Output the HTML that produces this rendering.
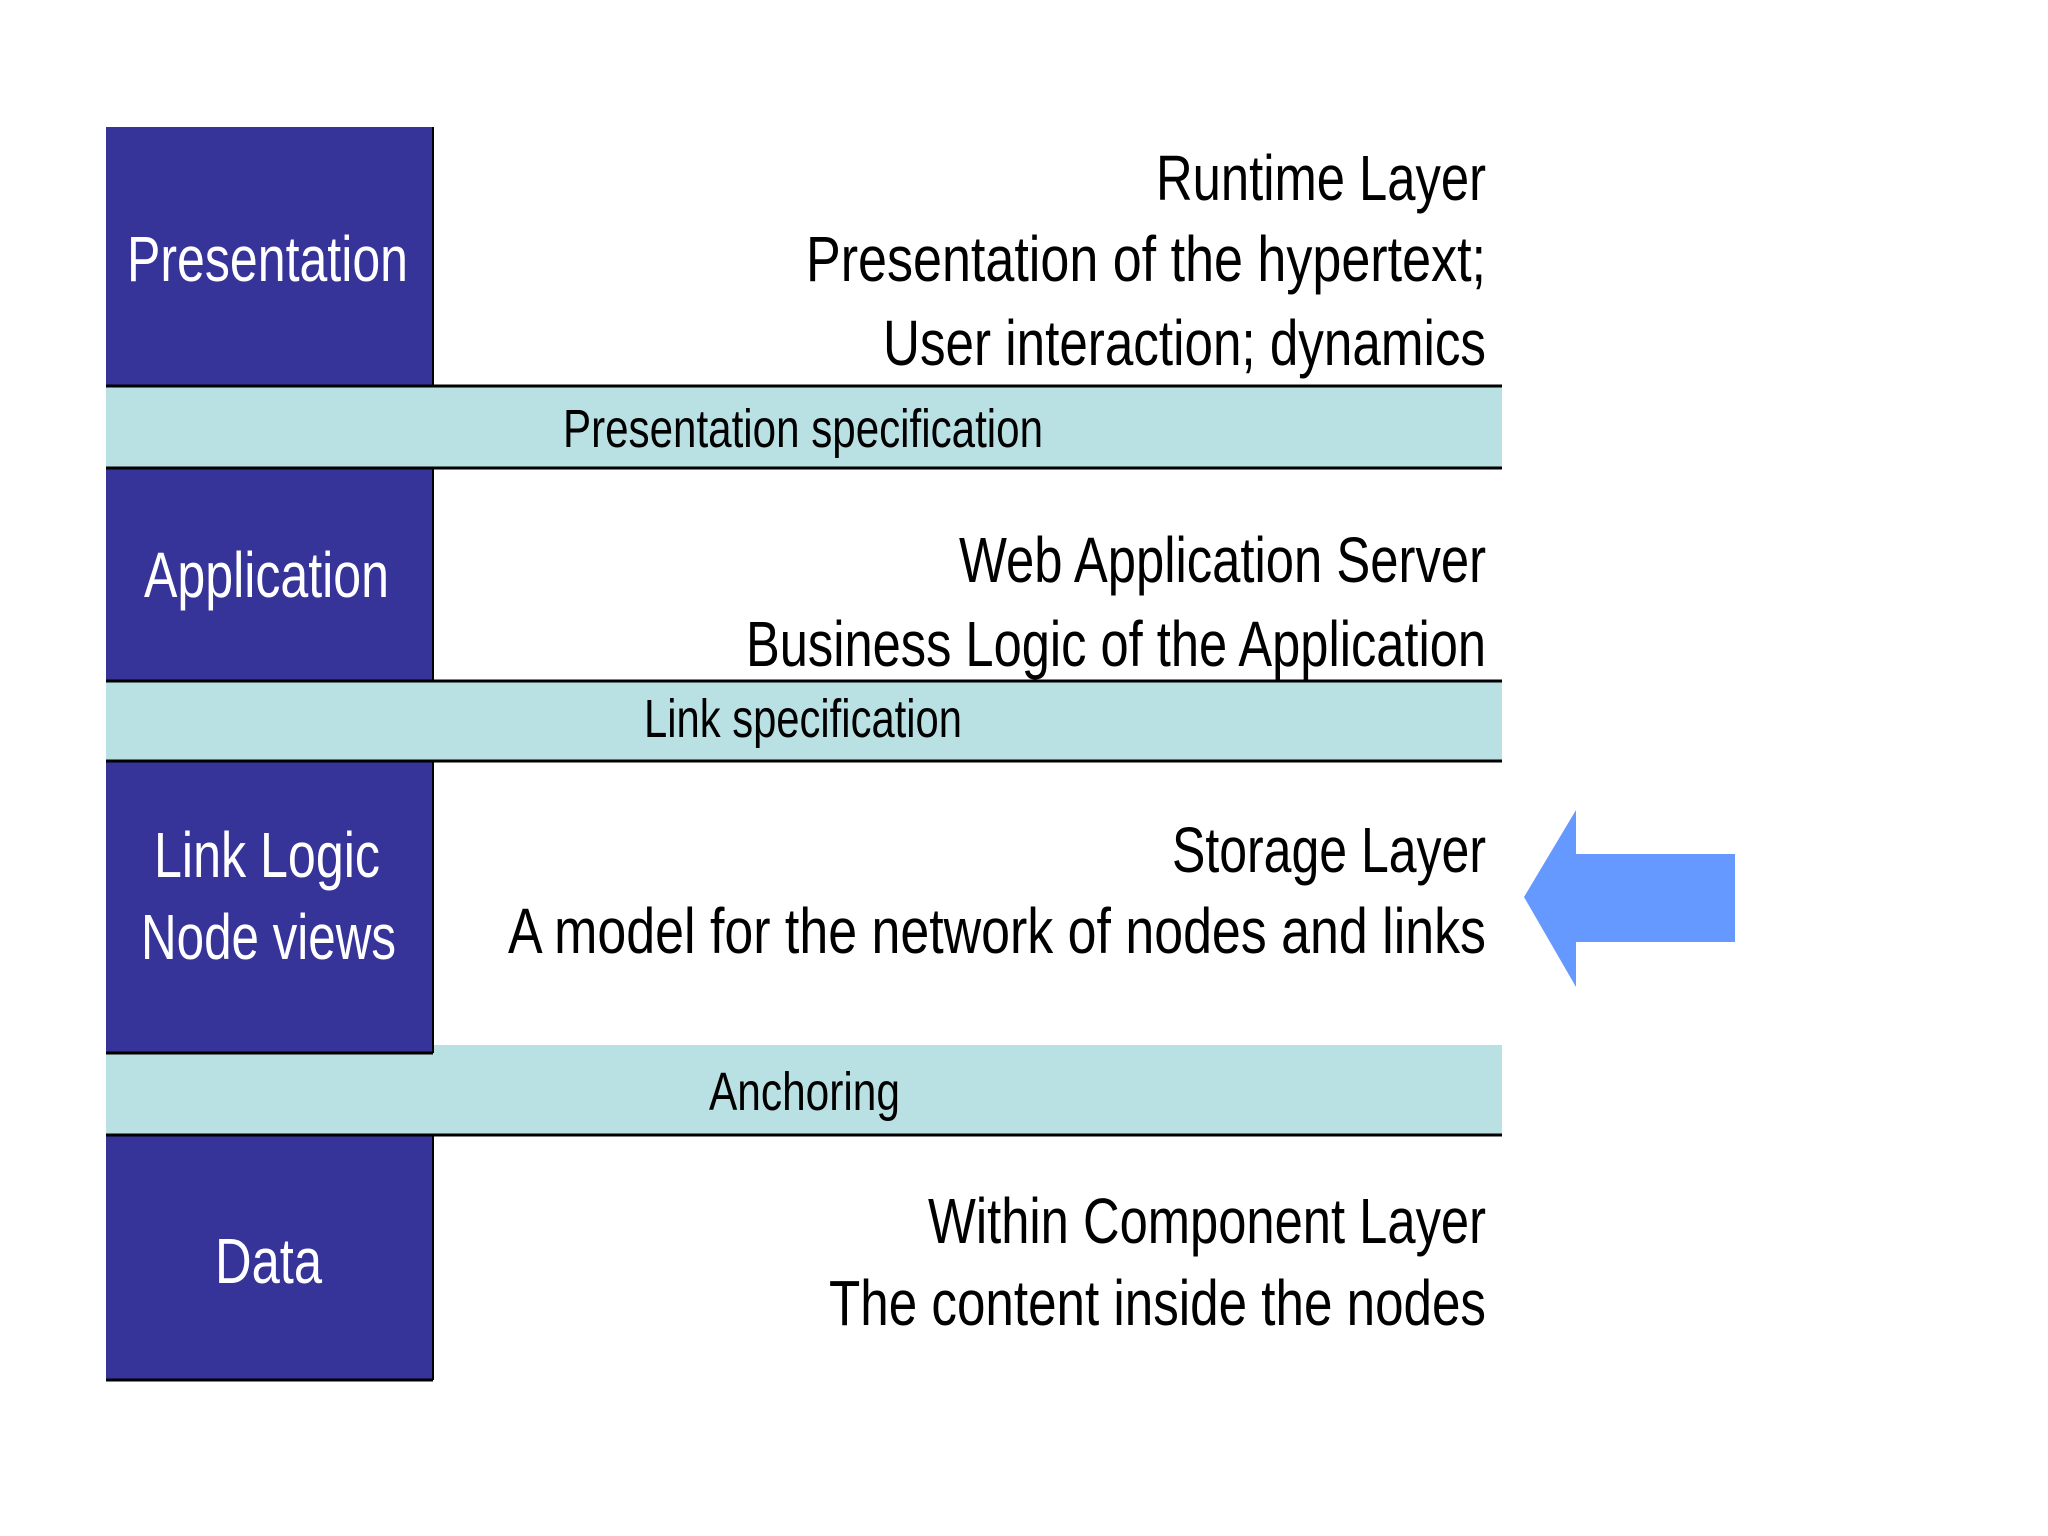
<!DOCTYPE html>
<html><head><meta charset="utf-8"><style>html,body{margin:0;padding:0;background:#fff}svg{display:block}</style></head>
<body>
<svg width="2048" height="1536" viewBox="0 0 2048 1536" xmlns="http://www.w3.org/2000/svg" font-family="Liberation Sans, sans-serif">
<rect width="2048" height="1536" fill="#fff"/>
<!-- bands -->
<rect x="106" y="385" width="1396" height="83" fill="#b9e0e3"/>
<rect x="106" y="680" width="1396" height="81" fill="#b9e0e3"/>
<rect x="106" y="1045" width="1396" height="90" fill="#b9e0e3"/>
<!-- blue boxes -->
<rect x="106" y="127" width="327" height="258" fill="#363399"/>
<rect x="106" y="468" width="327" height="212" fill="#363399"/>
<rect x="106" y="761" width="327" height="292" fill="#363399"/>
<rect x="106" y="1135" width="327" height="245" fill="#363399"/>
<!-- lines -->
<g stroke="#000" stroke-width="3">
<line x1="106" y1="386" x2="1502" y2="386"/>
<line x1="106" y1="468" x2="1502" y2="468"/>
<line x1="106" y1="681" x2="1502" y2="681"/>
<line x1="106" y1="761" x2="1502" y2="761"/>
<line x1="106" y1="1053" x2="433" y2="1053"/>
<line x1="106" y1="1135" x2="1502" y2="1135"/>
<line x1="106" y1="1380" x2="433" y2="1380"/>
</g>
<g stroke="#000" stroke-width="2">
<line x1="433" y1="127" x2="433" y2="385"/>
<line x1="433" y1="468" x2="433" y2="680"/>
<line x1="433" y1="761" x2="433" y2="1053"/>
<line x1="433" y1="1135" x2="433" y2="1380"/>
</g>
<!-- arrow -->
<polygon points="1524,897 1576,810 1576,854 1735,854 1735,942 1576,942 1576,987" fill="#6699ff"/>
<!-- blue labels -->
<g fill="#fff" font-size="64">
<text x="127" y="281" textLength="281" lengthAdjust="spacingAndGlyphs">Presentation</text>
<text x="144" y="597" textLength="245" lengthAdjust="spacingAndGlyphs">Application</text>
<text x="154" y="877" textLength="226" lengthAdjust="spacingAndGlyphs">Link Logic</text>
<text x="141" y="959" textLength="255" lengthAdjust="spacingAndGlyphs">Node views</text>
<text x="215" y="1283" textLength="107" lengthAdjust="spacingAndGlyphs">Data</text>
</g>
<!-- right texts -->
<g fill="#000" font-size="64">
<text x="1156" y="200" textLength="330" lengthAdjust="spacingAndGlyphs">Runtime Layer</text>
<text x="806" y="281" textLength="680" lengthAdjust="spacingAndGlyphs">Presentation of the hypertext;</text>
<text x="883" y="365" textLength="603" lengthAdjust="spacingAndGlyphs">User interaction; dynamics</text>
<text x="959" y="582" textLength="527" lengthAdjust="spacingAndGlyphs">Web Application Server</text>
<text x="746" y="666" textLength="740" lengthAdjust="spacingAndGlyphs">Business Logic of the Application</text>
<text x="1172" y="872" textLength="314" lengthAdjust="spacingAndGlyphs">Storage Layer</text>
<text x="508" y="953" textLength="978" lengthAdjust="spacingAndGlyphs">A model for the network of nodes and links</text>
<text x="928" y="1243" textLength="558" lengthAdjust="spacingAndGlyphs">Within Component Layer</text>
<text x="829" y="1325" textLength="657" lengthAdjust="spacingAndGlyphs">The content inside the nodes</text>
</g>
<g fill="#000" font-size="54">
<text x="563" y="447" textLength="480" lengthAdjust="spacingAndGlyphs">Presentation specification</text>
<text x="644" y="737" textLength="318" lengthAdjust="spacingAndGlyphs">Link specification</text>
<text x="709" y="1110" textLength="191" lengthAdjust="spacingAndGlyphs">Anchoring</text>
</g>
</svg>
</body></html>
